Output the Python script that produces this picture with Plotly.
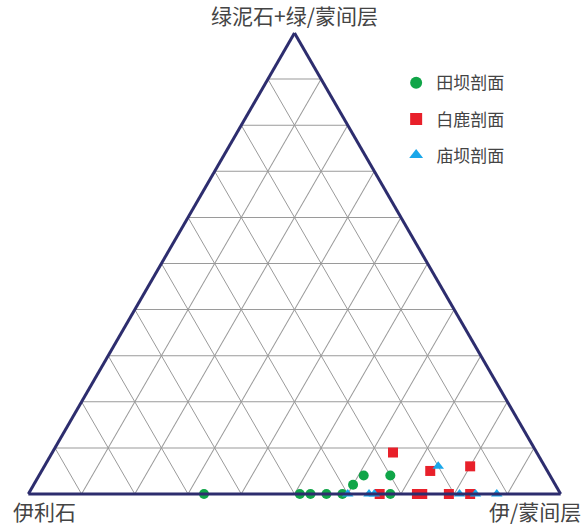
import plotly.graph_objects as go

# Ternary composition (%): chlorite + C/S (top), illite (left), I/S (right)
tianba_chl = [0, 0, 0, 0, 0, 2, 4, 4, 0]
tianba_ill = [67, 49, 47, 44, 41, 38, 35, 30, 32]
tianba_is = [33, 51, 53, 56, 59, 60, 61, 66, 68]

bailu_chl = [0, 9, 0, 0, 5, 0, 6, 0]
bailu_ill = [34, 27, 27, 26, 22, 21, 14, 17]
bailu_is = [66, 64, 73, 74, 73, 79, 80, 83]

miaoba_chl = [0, 0, 0, 6, 0, 0, 0]
miaoba_ill = [40, 36, 35, 20, 19, 16, 12]
miaoba_is = [60, 64, 65, 74, 81, 84, 88]

series_names = ["田坝剖面", "白鹿剖面", "庙坝剖面"]
vertex_labels = ["绿泥石+绿/蒙间层", "伊利石", "伊/蒙间层"]

FONT = "Noto Sans CJK SC"
EDGE = "#2d2d6e"
GRID = "#9a9a9a"

fig = go.Figure()

styles = [
    (tianba_chl, tianba_ill, tianba_is, "circle", "#10a548", 10),
    (bailu_chl, bailu_ill, bailu_is, "square", "#e8202a", 10),
    (miaoba_chl, miaoba_ill, miaoba_is, "triangle-up", "#1aa7ea", 10),
]
for i, (a, b, c, sym, col, sz) in enumerate(styles):
    fig.add_trace(go.Scatterternary(
        a=a, b=b, c=c, mode="markers", name=series_names[i],
        legendgroup=f"g{i}", cliponaxis=False,
        marker=dict(symbol=sym, color=col, size=sz, line=dict(width=0)),
    ))

axis_common = dict(
    min=0, dtick=10, showticklabels=False, ticks="",
    showgrid=True, gridcolor=GRID, gridwidth=1,
    showline=True, linecolor=EDGE, linewidth=3, title=dict(text=""),
)

fig.update_layout(
    width=586, height=526,
    margin=dict(l=27, r=24, t=33, b=32),
    paper_bgcolor="white", plot_bgcolor="white",
    font=dict(family=FONT, color="#444444"),
    ternary=dict(
        sum=100, bgcolor="white",
        aaxis=axis_common, baxis=axis_common, caxis=axis_common,
    ),
    legend=dict(
        x=0.69, y=0.93, xanchor="left", yanchor="top",
        font=dict(family=FONT, size=17, color="#444444"),
        bgcolor="rgba(0,0,0,0)", tracegroupgap=11, itemsizing="constant",
    ),
    annotations=[
        dict(text=vertex_labels[0], x=0.5, y=1.0, xref="paper", yref="paper",
             xanchor="center", yanchor="bottom", yshift=1, showarrow=False,
             font=dict(family=FONT, size=21, color="#444444")),
        dict(text=vertex_labels[1], x=-0.03, y=0.0, xref="paper", yref="paper",
             xanchor="left", yanchor="top", yshift=0, showarrow=False,
             font=dict(family=FONT, size=21, color="#444444")),
        dict(text=vertex_labels[2], x=1.04, y=0.0, xref="paper", yref="paper",
             xanchor="right", yanchor="top", yshift=0, showarrow=False,
             font=dict(family=FONT, size=21, color="#444444")),
    ],
)

fig.write_html("out.html")
